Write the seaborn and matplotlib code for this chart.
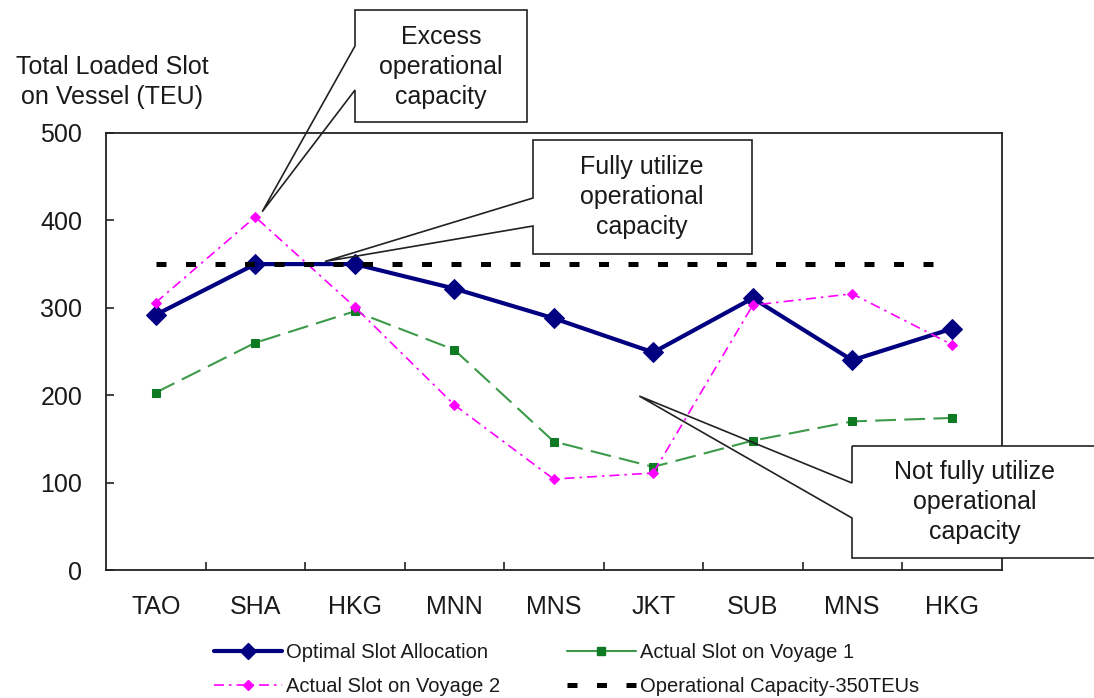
import matplotlib
matplotlib.use("Agg")
import matplotlib.pyplot as plt
from matplotlib.patches import Polygon, Rectangle
from matplotlib.lines import Line2D
from matplotlib import font_manager
import seaborn as sns
import numpy as np

# ---------------- data ----------------
ports = ["TAO", "SHA", "HKG", "MNN", "MNS", "JKT", "SUB", "MNS", "HKG"]
optimal = [292, 350, 350, 322, 288, 249, 311, 240, 276]
voyage1 = [203, 260, 296, 252, 147, 118, 148, 170, 174]
voyage2 = [306, 404, 301, 189, 104, 111, 303, 316, 258]
capacity = [350] * 9
yticks = [0, 100, 200, 300, 400, 500]

labels = ["Optimal Slot Allocation", "Actual Slot on Voyage 1",
          "Actual Slot on Voyage 2", "Operational Capacity-350TEUs"]
ylabel_text = "Total Loaded Slot\non Vessel (TEU)"
callouts = ["Excess\noperational\ncapacity",
            "Fully utilize\noperational\ncapacity",
            "Not fully utilize\noperational\ncapacity"]

# ---------------- style ----------------
sns.set_theme(style="white")
names = {f.name for f in font_manager.fontManager.ttflist}
main_font = "Liberation Sans" if "Liberation Sans" in names else "DejaVu Sans"
narrow_font = "Liberation Sans Narrow" if "Liberation Sans Narrow" in names else main_font
plt.rcParams["font.family"] = [main_font, "DejaVu Sans"]
TXT = "#1a1a1a"

W, H = 1094, 698
fig = plt.figure(figsize=(W / 100, H / 100), dpi=100)
fig.patch.set_facecolor("white")
ax = fig.add_axes([106 / W, 1 - 570 / H, (1001.5 - 106) / W, (570 - 133) / H])

pos = np.arange(len(ports))

NAVY = "#000080"
GREEN_L = "#3C9A4A"
GREEN_M = "#0E7A23"
MAG = "#FF00FF"

sns.lineplot(x=pos, y=optimal, ax=ax, sort=False, color=NAVY, linewidth=3,
             marker="D", markersize=10, markerfacecolor=NAVY,
             markeredgecolor=NAVY, zorder=3)
sns.lineplot(x=pos, y=voyage1, ax=ax, sort=False, color=GREEN_L, linewidth=1.5,
             linestyle=(0, (10, 4)), marker="s", markersize=6,
             markerfacecolor=GREEN_M, markeredgecolor=GREEN_M, zorder=4)
sns.lineplot(x=pos, y=voyage2, ax=ax, sort=False, color=MAG, linewidth=1.2,
             linestyle=(0, (6, 3, 1.5, 3)), marker="D", markersize=5.5,
             markerfacecolor=MAG, markeredgecolor=MAG, zorder=5)
sns.lineplot(x=pos, y=capacity, ax=ax, sort=False, color="black", linewidth=3.6,
             linestyle=(0, (2.0, 3.9)), zorder=6)

ax.set_xlim(-0.5, len(ports) - 0.5)
ax.set_ylim(0, 500)
ax.set_yticks(yticks)
ax.set_yticklabels([str(v) for v in yticks], fontsize=18, color=TXT)
ax.set_xticks(pos)
ax.set_xticklabels(ports, fontsize=18, color=TXT)
ax.set_xticks(np.arange(0.5, len(ports) - 1, 1), minor=True)
ax.tick_params(axis="x", which="major", length=0, pad=18)
ax.tick_params(axis="x", which="minor", direction="in", length=6, width=1.2,
               color="#222222", bottom=True)
ax.tick_params(axis="y", which="major", direction="in", length=6, width=1.2,
               color="#222222", left=True, pad=17)
ax.set_xlabel("")
ax.set_ylabel("")
for s in ax.spines.values():
    s.set_visible(True)
    s.set_color("#222222")
    s.set_linewidth(1.3)
ax.grid(False)
if ax.get_legend():
    ax.get_legend().remove()

fig.text(112 / W, 1 - 82 / H, ylabel_text, ha="center", va="center",
         fontsize=18, color=TXT, linespacing=1.3)

# ---------------- callouts ----------------
def fx(px):
    return px / W

def fy(py):
    return 1 - py / H

def callout(box, base, tip_data, text, text_xy):
    x0, y0, x1, y1 = box  # pixels (top-left origin)
    tx, ty = ax.transData.transform(tip_data)
    tip = (tx / W, ty / H)  # display -> figure fraction
    fig.patches.append(Rectangle((fx(x0), fy(y1)), fx(x1) - fx(x0), fy(y0) - fy(y1),
                                 transform=fig.transFigure, facecolor="white",
                                 edgecolor="none", zorder=1))
    pts = [(fx(x0), fy(y0)), (fx(x1), fy(y0)), (fx(x1), fy(y1)), (fx(x0), fy(y1)),
           (fx(x0), fy(base[1])), tip, (fx(x0), fy(base[0]))]
    fig.patches.append(Polygon(pts, closed=True, transform=fig.transFigure,
                               facecolor="none", edgecolor="#222222",
                               linewidth=1.2, zorder=2))
    fig.text(fx(text_xy[0]), fy(text_xy[1]), text, ha="center", va="center",
             fontsize=18, color=TXT, linespacing=1.3, zorder=3)

callout((355, 10, 527, 122), (46, 90), (1.07, 410), callouts[0], (441, 67))
callout((533, 140, 752, 254), (198, 226), (1.70, 353), callouts[1], (642, 197))
callout((852, 446, 1110, 558), (483, 518), (4.86, 199), callouts[2], (975, 502))

# ---------------- legend ----------------
handles = [
    Line2D([], [], color=NAVY, lw=3, marker="D", markersize=8),
    Line2D([], [], color=MAG, lw=1.2, linestyle=(0, (6, 3, 1.5, 3)),
           marker="D", markersize=5.5),
    Line2D([], [], color=GREEN_L, lw=1.5, marker="s", markersize=6,
           markerfacecolor=GREEN_M, markeredgecolor=GREEN_M),
    Line2D([], [], color="black", lw=3.6, linestyle=(0, (2.0, 3.9))),
]
order_labels = [labels[0], labels[2], labels[1], labels[3]]
fig.legend(handles, order_labels, loc="upper left",
           bbox_to_anchor=(214 / W, 1 - 643 / H), ncol=2, frameon=False,
           prop={"family": narrow_font, "size": 14.5},
           handlelength=3.4, handletextpad=0.2, columnspacing=3.3,
           labelspacing=0.75, borderpad=0, borderaxespad=0, labelcolor=TXT)

fig.savefig("out.png", dpi=100)
